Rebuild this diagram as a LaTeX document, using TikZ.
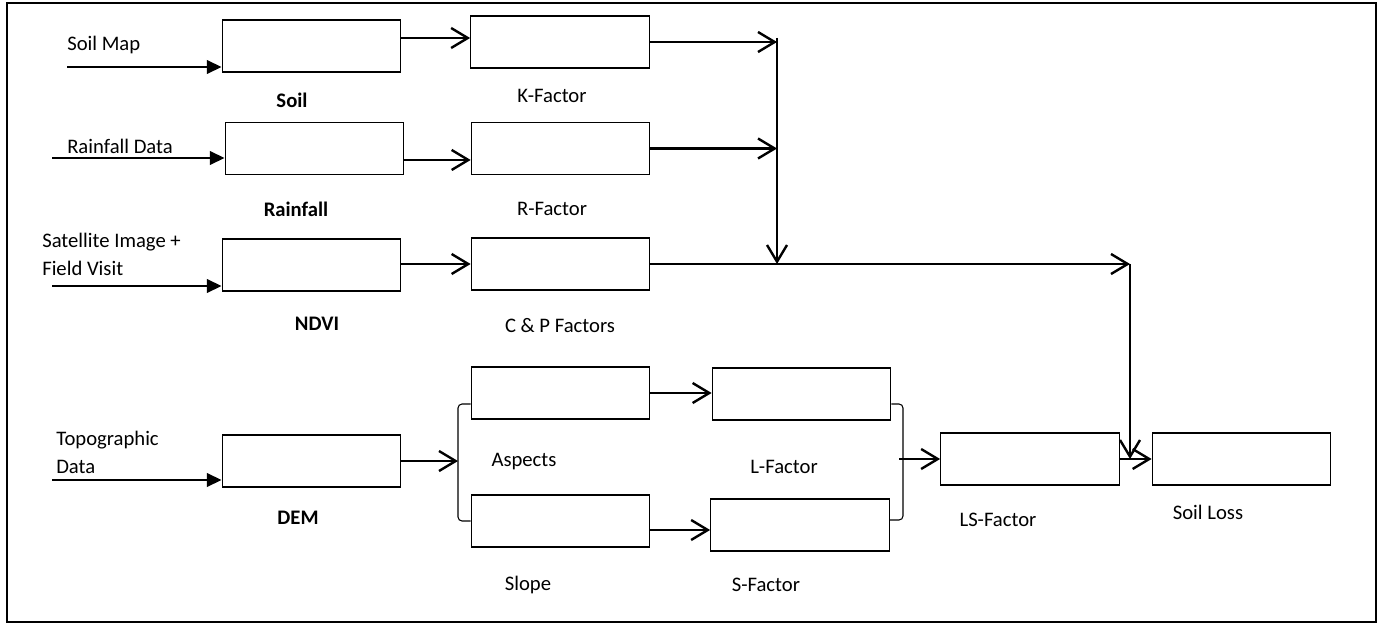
\documentclass[tikz,border=0pt]{standalone}
\usepackage{fontspec}
\setmainfont{Carlito}
\usetikzlibrary{arrows.meta,calc}
\begin{document}
\begin{tikzpicture}[x=0.75pt,y=-0.75pt,
  box/.style={draw,line width=0.8pt,minimum width=134pt,minimum height=39pt,inner sep=0pt},
  feed/.style={line width=1.8pt,-{Triangle[length=11pt,width=10pt]}},
  flow/.style={line width=1.8pt,-{Straight Barb[length=12.5pt,width=15pt]}},
  lbl/.style={font=\fontsize{15.5}{21}\selectfont,inner sep=0pt},
  hdr/.style={font=\fontsize{15.5}{21}\selectfont\bfseries,inner sep=0pt},
  brk/.style={line width=0.8pt,rounded corners=3pt}]
\useasboundingbox (0,0) rectangle (1383,624);
\draw[line width=2pt] (7,3) rectangle (1376,622);
% input stage
\node[box] (soil) at (311.5,46) {};
\node[box] (rain) at (314.5,148.5) {};
\node[box] (ndvi) at (311.5,265) {};
\node[box] (dem) at (311.5,461) {};
% factors
\node[box] (kf) at (560,42) {};
\node[box] (rf) at (560.5,148.5) {};
\node[box] (cp) at (560.5,264) {};
\node[box] (asp) at (560.5,393) {};
\node[box] (slp) at (560.5,521) {};
\node[box] (lf) at (801.5,394) {};
\node[box] (sf) at (800,525) {};
\node[box] (ls) at (1030,459) {};
\node[box] (loss) at (1241.5,459) {};
% data sources
\node[lbl,anchor=west] (tmap) at (67,45) {Soil Map};
\node[lbl,anchor=west] (train) at (67,146) {Rainfall Data};
\node[lbl,anchor=west,align=left] (tsat) at (42,254.5) {Satellite Image +\\Field Visit};
\node[lbl,anchor=west,align=left] (ttopo) at (56,452.5) {Topographic\\Data};
\coordinate (in1) at (67,67);
\coordinate (in2) at (52,158);
\coordinate (in3) at (52,286);
\coordinate (in4) at (52,480);
\draw[feed] (in1) -- (in1 -| soil.west);
\draw[feed] (in2) -- (in2 -| rain.west);
\draw[feed] (in3) -- (in3 -| ndvi.west);
\draw[feed] (in4) -- (in4 -| dem.west);
% box captions
\node[hdr] (tsoil) at (292,100) {Soil};
\node[hdr] (trainf) at (296,209) {Rainfall};
\node[hdr] (tndvi) at (317,324) {NDVI};
\node[hdr] (tdem) at (298,518) {DEM};
\node[lbl] (tk) at (552,96) {K-Factor};
\node[lbl] (tr) at (552,209) {R-Factor};
\node[lbl] (tcp) at (560,326) {C \& P Factors};
\node[lbl] (tasp) at (524,462) {Aspects};
\node[lbl] (tslp) at (528,585) {Slope};
\node[lbl] (tl) at (784,467) {L-Factor};
\node[lbl] (ts) at (766,585) {S-Factor};
\node[lbl] (tls) at (998,520) {LS-Factor};
\node[lbl] (tloss) at (1208,512) {Soil Loss};
% connectors
\draw[flow] ([yshift=6pt]soil.east) -- ([yshift=6pt]soil.east -| kf.west);
\draw[flow] ([yshift=-8.6pt]rain.east) -- ([yshift=-8.6pt]rain.east -| rf.west);
\draw[flow] (ndvi.east |- cp.west) -- (cp.west);
\coordinate (top) at (777,38);
\coordinate (mid) at (777,264);
\coordinate (far) at (1130,264);
\draw[flow] (kf.east) -- (kf.east -| top);
\draw[flow] (rf.east) -- (rf.east -| top);
\draw[flow] (top) -- (mid);
\draw[flow] (cp.east) -- (far);
\draw[flow] (far) -- (far |- ls.east);
\draw[flow] (ls.east) -- (loss.west);
% DEM split and merge
\coordinate (jl) at (458,461);
\coordinate (jr) at (903,459);
\draw[brk] ($(asp.west)+(0,11)$) -| (jl) |- (slp.west);
\draw[flow] (dem.east) -- (jl);
\draw[flow] (asp.east) -- (asp.east -| lf.west);
\draw[flow] ([yshift=-6.75pt]slp.east) -- ([yshift=-6.75pt]slp.east -| sf.west);
\draw[brk] ($(lf.east)+(0,10)$) -| (jr) |- ($(sf.east)+(0,-5)$);
\draw[flow] ([xshift=-3pt]jr) -- (ls.west);
\end{tikzpicture}
\end{document}
